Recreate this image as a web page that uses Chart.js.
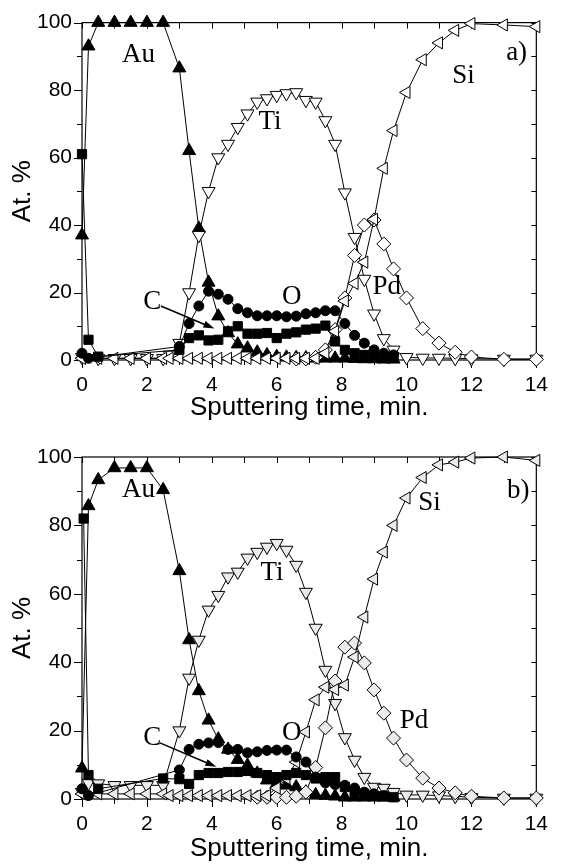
<!DOCTYPE html>
<html>
<head>
<meta charset="utf-8">
<script src="https://cdn.jsdelivr.net/npm/chart.js@4.4.1/dist/chart.umd.min.js"></script>
<style>
  body { margin: 0; background: #fff; }
  canvas { display: block; }
</style>
</head>
<body>
<canvas id="chartA" width="561" height="433"></canvas>
<canvas id="chartB" width="561" height="433"></canvas>
<script>
// axis ticks
var xTicks = [0, 2, 4, 6, 8, 10, 12, 14];
var yTicks = [0, 20, 40, 60, 80, 100];

// ---- panel a) ----
var tAuA = [0, 0.2, 0.5, 1, 1.5, 2, 2.5, 3.0, 3.3, 3.6, 3.9, 4.2, 4.5, 4.8, 5.1, 5.4, 5.7, 6.0, 6.3, 6.6, 6.9, 7.2, 7.5, 7.8, 8.1, 8.4, 8.7, 9.0, 9.3, 9.6];
var auA  = [37, 93, 100, 100, 100, 100, 100, 86.5, 62, 39, 23, 13, 8, 4.7, 3.5, 2.3, 1.5, 1, 0.8, 0.7, 0.6, 0.5, 0.5, 0.5, 0.5, 0.4, 0.3, 0.3, 0.2, 0.2];

var tTiA = [0, 0.5, 1, 1.5, 2, 2.5, 2.7, 3.0, 3.3, 3.6, 3.9, 4.2, 4.5, 4.8, 5.1, 5.4, 5.7, 6.0, 6.3, 6.6, 6.9, 7.2, 7.5, 7.8, 8.1, 8.4, 8.7, 9.0, 9.3, 9.6, 10, 10.5, 11, 11.5, 12, 13, 14];
var tiA  = [0.8, 0.5, 0.5, 0.5, 0.5, 0.5, 1.5, 5, 20, 37, 50, 60, 64, 69, 73, 76.5, 77.5, 78.5, 79, 79.3, 77, 76.5, 71, 64, 49.6, 36.4, 24, 13.7, 6.4, 3, 0.8, 0.6, 0.6, 0.5, 0.4, 0.3, 0.3];

var tSiA = [0, 0.5, 1, 1.5, 2, 2.5, 2.7, 3.0, 3.3, 3.6, 3.9, 4.2, 4.5, 4.8, 5.1, 5.4, 5.7, 6.0, 6.3, 6.6, 6.9, 7.2, 7.5, 7.8, 8.1, 8.4, 8.7, 9.0, 9.3, 9.6, 10, 10.5, 11, 11.5, 12, 13, 14];
var siA  = [0.5, 0.5, 0.5, 0.5, 0.5, 0.5, 0.5, 0.5, 0.5, 0.5, 0.5, 0.5, 0.5, 0.5, 0.5, 0.5, 0.5, 0.5, 0.5, 0.5, 0.5, 0.5, 2, 8.5, 17.5, 22.7, 29, 41.7, 56.8, 68, 79.3, 89, 94, 97.7, 99.7, 99.3, 98.8];

var tPdA = [6.6, 6.9, 7.2, 7.5, 7.8, 8.1, 8.4, 8.7, 9.0, 9.3, 9.6, 10, 10.5, 11, 11.5, 12, 13, 14];
var pdA  = [0.3, 0.3, 0.8, 3, 9, 18.4, 31, 40, 41.5, 34.4, 27, 18.4, 9.3, 5, 2.3, 0.9, 0.2, 0.2];

var tCA = [0, 0.2, 0.5, 3.0, 3.3, 3.6, 3.9, 4.2, 4.5, 4.8, 5.1, 5.4, 5.7, 6.0, 6.3, 6.6, 6.9, 7.2, 7.5, 7.8, 8.1, 8.4, 8.7, 9.0, 9.3, 9.6];
var cA  = [61, 6, 1, 3, 6.5, 7.3, 5.8, 6, 8.5, 10, 7.8, 7.8, 8, 6.5, 7.8, 8.2, 9, 9.3, 10.2, 5.5, 3, 2, 1.5, 1.2, 1, 1];

var tOA = [0, 0.2, 3.0, 3.3, 3.6, 3.9, 4.2, 4.5, 4.8, 5.1, 5.4, 5.7, 6.0, 6.3, 6.6, 6.9, 7.2, 7.5, 7.8, 8.1, 8.4, 8.7, 9.0, 9.3, 9.6];
var oA  = [2, 0.5, 4, 10.8, 16, 20.4, 19.5, 18, 15.2, 14, 13.1, 13.1, 13.1, 12.8, 13, 13.7, 14, 14.6, 14.6, 10.8, 7.3, 5, 3, 2, 1.5];

// ---- panel b) ----
var tAuB = [0, 0.2, 0.5, 1, 1.5, 2, 2.5, 3.0, 3.3, 3.6, 3.9, 4.2, 4.5, 4.8, 5.1, 5.4, 5.7, 6.0, 6.3, 6.6, 6.9, 7.2, 7.5, 7.8, 8.1, 8.4, 8.7, 9.0, 9.3, 9.6];
var auB  = [9, 85.7, 93.3, 96.8, 96.8, 96.8, 90.4, 66.7, 46.5, 31.6, 23, 17.5, 14.5, 11.5, 9.8, 7.5, 5.5, 4.5, 4, 3.5, 2, 1.2, 1, 0.8, 0.5, 0.5, 0.5, 0.5, 0.5, 0.5];

var tTiB = [0, 0.2, 0.5, 1, 1.5, 2, 2.5, 3.0, 3.3, 3.6, 3.9, 4.2, 4.5, 4.8, 5.1, 5.4, 5.7, 6.0, 6.3, 6.6, 6.9, 7.2, 7.5, 7.8, 8.1, 8.4, 8.7, 9.0, 9.3, 9.6, 10, 10.5, 11, 11.5, 12, 13, 14];
var tiB  = [2, 4.7, 4.5, 4, 4, 4, 4, 20, 35.4, 46.5, 55.3, 59.6, 65, 66.4, 70.5, 72.2, 73.7, 74.8, 72.8, 68.4, 60.5, 50, 37.7, 28, 18, 11.4, 6.4, 3.5, 3.2, 2, 1.2, 1.2, 1, 0.8, 0.5, 0.3, 0.3];

var tSiB = [0, 0.5, 1, 1.5, 2, 2.5, 2.7, 3.0, 3.3, 3.6, 3.9, 4.2, 4.5, 4.8, 5.1, 5.4, 5.7, 6.0, 6.3, 6.6, 6.9, 7.2, 7.5, 7.8, 8.1, 8.4, 8.7, 9.0, 9.3, 9.6, 10, 10.5, 11, 11.5, 12, 13, 14];
var siB  = [1.5, 1.5, 1.5, 1.5, 1.5, 1.5, 1, 1, 1, 1, 1, 1, 1, 1, 1, 1, 1, 3.2, 6, 10.8, 19.6, 29, 32.7, 32, 33.3, 41.5, 53.2, 64.3, 72.2, 80, 88, 94, 97.7, 98.5, 99.7, 100, 99];

var tPdB = [5.4, 5.7, 6.0, 6.3, 6.6, 6.9, 7.2, 7.5, 7.8, 8.1, 8.4, 8.7, 9.0, 9.3, 9.6, 10, 10.5, 11, 11.5, 12, 13, 14];
var pdB  = [0.5, 0.5, 0.5, 0.5, 0.8, 2, 9.2, 20.8, 34.5, 44.4, 45.6, 39.8, 31.9, 25.1, 17.8, 11.4, 6.1, 3.2, 1.8, 0.8, 0.3, 0.3];

var tCB = [0.05, 0.2, 0.5, 2.5, 3.0, 3.3, 3.6, 3.9, 4.2, 4.5, 4.8, 5.1, 5.4, 5.7, 6.0, 6.3, 6.6, 6.9, 7.2, 7.5, 7.8, 8.1, 8.4, 8.7, 9.0, 9.3, 9.6];
var cB  = [82, 7, 3, 6, 5.8, 4.4, 7, 7.6, 7.6, 7.9, 7.9, 8.2, 7.6, 7, 6.4, 7, 7.6, 7, 6, 6.4, 6.4, 3.5, 2.2, 1.5, 1, 0.8, 0.5];

var tOB = [0, 0.2, 3.0, 3.3, 3.6, 3.9, 4.2, 4.5, 4.8, 5.1, 5.4, 5.7, 6.0, 6.3, 6.6, 6.9, 7.2, 7.5, 7.8, 8.1, 8.4, 8.7, 9.0, 9.3];
var oB  = [3, 1, 8.5, 14.5, 16, 16.4, 16.5, 14.5, 14.5, 13.5, 13.8, 14.2, 14.3, 14.3, 12.3, 10.8, 6.4, 4.7, 4.2, 4, 3.2, 2, 1.5, 1];

// in-plot labels: text, x (min), y (at.%)
var notesA = [['Au', 1.23, 88.3], ['Ti', 5.44, 68.5], ['Si', 11.41, 82.2], ['a)', 13.07, 88.9], ['C', 1.89, 15.2], ['O', 6.16, 16.6], ['Pd', 8.95, 19.5]];
var notesB = [['Au', 1.23, 88.3], ['Ti', 5.5, 64], ['Si', 10.36, 84.5], ['b)', 13.1, 88], ['C', 1.89, 15.8], ['O', 6.16, 17.3], ['Pd', 9.79, 20.8]];
// arrow from "C" label: [x1, y1, x2, y2]
var arrowA = [2.43, 16, 4.08, 9.3];
var arrowB = [2.4, 16.4, 4.14, 9.4];

var sansFont = '"Liberation Sans", Arial, sans-serif';
var serifFont = '"Liberation Serif", "Times New Roman", serif';

function pts(ts, vs) {
  var out = [];
  for (var i = 0; i < ts.length; i++) out.push({x: ts[i], y: vs[i]});
  return out;
}

function series(ts, vs, style, rot, radius, fill) {
  return {
    data: pts(ts, vs),
    borderColor: '#000',
    borderWidth: 1,
    pointStyle: style,
    rotation: rot,
    pointRadius: radius,
    pointBorderWidth: 1,
    pointBorderColor: '#000',
    pointBackgroundColor: fill,
    tension: 0,
    clip: false
  };
}

var framePlugin = {
  id: 'frameTicks',
  beforeDatasetsDraw: function(chart) {
    var ctx = chart.ctx, a = chart.chartArea;
    var xs = chart.scales.x, ys = chart.scales.y;
    ctx.save();
    ctx.strokeStyle = '#000';
    ctx.lineWidth = 1.2;
    ctx.strokeRect(a.left, a.top, a.right - a.left, a.bottom - a.top);
    ctx.lineWidth = 1;
    ctx.beginPath();
    for (var t = 0; t <= 14; t++) {
      var px = Math.round(xs.getPixelForValue(t)) + 0.5;
      var len = (t % 2 === 0) ? 8 : 5;
      ctx.moveTo(px, a.bottom); ctx.lineTo(px, a.bottom + len);
      ctx.moveTo(px, a.top); ctx.lineTo(px, a.top + 6);
    }
    for (var v = 0; v <= 100; v += 10) {
      var py = Math.round(ys.getPixelForValue(v)) + 0.5;
      var l2 = (v % 20 === 0) ? 8 : 5;
      ctx.moveTo(a.left, py); ctx.lineTo(a.left - l2, py);
      ctx.moveTo(a.right, py); ctx.lineTo(a.right - 5, py);
    }
    ctx.stroke();
    ctx.restore();
  },
  afterDatasetsDraw: function(chart) {
    var ctx = chart.ctx;
    var xs = chart.scales.x, ys = chart.scales.y;
    var o = chart.options.plugins.frameTicks;
    ctx.save();
    ctx.fillStyle = '#000';
    ctx.font = '27px ' + serifFont;
    ctx.textAlign = 'left';
    ctx.textBaseline = 'alphabetic';
    o.notes.forEach(function(n) {
      ctx.fillText(n[0], xs.getPixelForValue(n[1]), ys.getPixelForValue(n[2]));
    });
    // arrow
    var x1 = xs.getPixelForValue(o.arrow[0]), y1 = ys.getPixelForValue(o.arrow[1]);
    var x2 = xs.getPixelForValue(o.arrow[2]), y2 = ys.getPixelForValue(o.arrow[3]);
    var ang = Math.atan2(y2 - y1, x2 - x1);
    ctx.strokeStyle = '#000';
    ctx.lineWidth = 1.5;
    ctx.beginPath();
    ctx.moveTo(x1, y1);
    ctx.lineTo(x2 - 8 * Math.cos(ang), y2 - 8 * Math.sin(ang));
    ctx.stroke();
    ctx.beginPath();
    ctx.moveTo(x2, y2);
    ctx.lineTo(x2 - 11 * Math.cos(ang) + 3.5 * Math.sin(ang), y2 - 11 * Math.sin(ang) - 3.5 * Math.cos(ang));
    ctx.lineTo(x2 - 11 * Math.cos(ang) - 3.5 * Math.sin(ang), y2 - 11 * Math.sin(ang) + 3.5 * Math.cos(ang));
    ctx.closePath();
    ctx.fill();
    ctx.restore();
  }
};

function makePanel(id, sets, notes, arrow, padTop, plotH, titlePad) {
  var canvasH = 433;
  return new Chart(document.getElementById(id), {
    type: 'line',
    data: { datasets: sets },
    options: {
      responsive: false,
      animation: false,
      devicePixelRatio: 1,
      layout: { padding: { left: 0, right: 13, top: padTop, bottom: 0 } },
      plugins: {
        legend: { display: false },
        tooltip: { enabled: false },
        frameTicks: { notes: notes, arrow: arrow }
      },
      scales: {
        x: {
          type: 'linear', min: 0, max: 14,
          afterBuildTicks: function(s) { s.ticks = xTicks.map(function(v) { return {value: v}; }); },
          grid: { display: false, drawTicks: false },
          border: { display: false },
          ticks: { padding: 13, color: '#000', font: { family: sansFont, size: 21 } },
          title: { display: true, text: 'Sputtering time, min.', color: '#000',
                   font: { family: sansFont, size: 26 }, padding: { top: 0, bottom: titlePad } },
          afterFit: function(s) { s.height = canvasH - padTop - plotH; }
        },
        y: {
          type: 'linear', min: 0, max: 100,
          afterBuildTicks: function(s) { s.ticks = yTicks.map(function(v) { return {value: v}; }); },
          grid: { display: false, drawTicks: false },
          border: { display: false },
          ticks: { padding: 10, color: '#000', font: { family: sansFont, size: 21 } },
          title: { display: true, text: 'At. %', color: '#000',
                   font: { family: sansFont, size: 26 }, padding: { top: 7, bottom: 0 } },
          afterFit: function(s) { s.width = 82; }
        }
      }
    },
    plugins: [framePlugin]
  });
}

var openA = '#ffffff';
var openB = '#ebebeb';

makePanel('chartA', [
  series(tCA, cA, 'rect', 0, 6.5, '#000'),
  series(tOA, oA, 'circle', 0, 5, '#000'),
  series(tSiA, siA, 'triangle', -90, 7, openA),
  series(tPdA, pdA, 'rectRot', 0, 7, openA),
  series(tTiA, tiA, 'triangle', 180, 7.5, openA),
  series(tAuA, auA, 'triangle', 0, 7.5, '#000')
], notesA, arrowA, 17, 343, 10);

makePanel('chartB', [
  series(tCB, cB, 'rect', 0, 6.5, '#000'),
  series(tOB, oB, 'circle', 0, 5, '#000'),
  series(tSiB, siB, 'triangle', -90, 7, openB),
  series(tPdB, pdB, 'rectRot', 0, 7, openB),
  series(tTiB, tiB, 'triangle', 180, 7.5, openB),
  series(tAuB, auB, 'triangle', 0, 7.5, '#000')
], notesB, arrowB, 24, 342, 2);
</script>
</body>
</html>
